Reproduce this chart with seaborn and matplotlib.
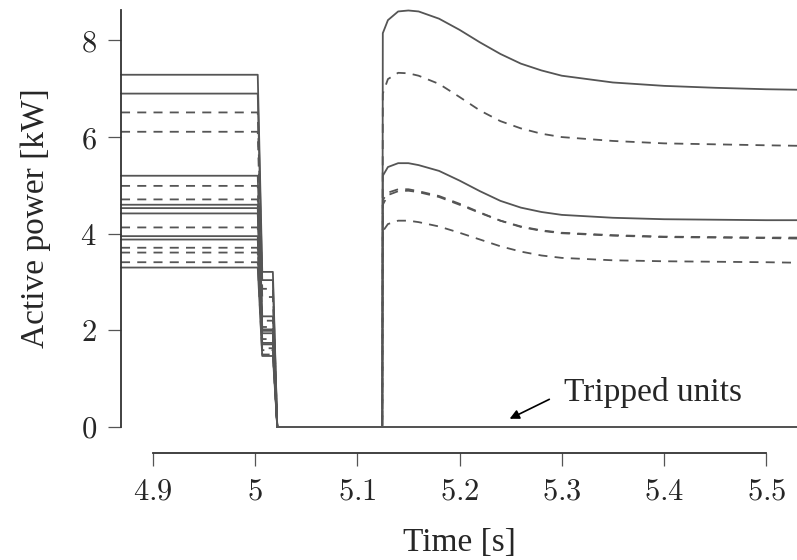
import matplotlib
matplotlib.use('Agg')
import matplotlib.pyplot as plt
import seaborn as sns
import pandas as pd

# pre-fault active power of each unit [kW] and its line style
pre_levels = [7.29, 6.90, 6.51, 6.11, 5.20, 4.99, 4.71, 4.60, 4.53, 4.42,
              4.13, 3.95, 3.88, 3.71, 3.61, 3.41, 3.30]
sag_levels = [3.21, 3.04, 2.86, 2.69, 2.29, 2.20, 2.07, 2.02, 1.99, 1.94,
              1.82, 1.74, 1.71, 1.63, 1.59, 1.50, 1.47]
unit_styles = ['solid', 'solid', 'dashed', 'dashed', 'solid', 'dashed', 'dashed',
               'solid', 'solid', 'solid', 'dashed', 'solid', 'solid', 'dashed',
               'dashed', 'dashed', 'solid']

# fault sequence break points [s]
t_steady_end = 5.0027
t_sag = 5.0071
t_sag_end = 5.0175
t_trip = 5.0218
t_restart = 5.1245
t_start, t_end = 4.869, 5.53

# units that restart after the fault and their recovery curves
restart_units = [0, 2, 4, 5, 6, 10]
restart_t = [5.1245, 5.125, 5.13, 5.14, 5.15, 5.16, 5.18, 5.20, 5.22, 5.24,
             5.26, 5.28, 5.30, 5.35, 5.40, 5.45, 5.50, 5.53]
restart_p = {
    0: [0, 8.15, 8.42, 8.60, 8.62, 8.60, 8.45, 8.22, 7.96, 7.72, 7.52, 7.38,
        7.27, 7.13, 7.06, 7.02, 6.99, 6.98],
    2: [0, 6.90, 7.20, 7.33, 7.32, 7.27, 7.10, 6.83, 6.55, 6.33, 6.18, 6.07,
        6.00, 5.92, 5.87, 5.85, 5.83, 5.82],
    4: [0, 5.20, 5.38, 5.46, 5.46, 5.42, 5.30, 5.10, 4.88, 4.68, 4.54, 4.45,
        4.39, 4.33, 4.30, 4.29, 4.28, 4.28],
    5: [0, 4.70, 4.85, 4.92, 4.92, 4.88, 4.78, 4.62, 4.44, 4.27, 4.14, 4.06,
        4.01, 3.96, 3.93, 3.92, 3.91, 3.90],
    6: [0, 4.60, 4.80, 4.88, 4.89, 4.86, 4.76, 4.60, 4.43, 4.27, 4.15, 4.07,
        4.02, 3.97, 3.94, 3.93, 3.92, 3.92],
    10: [0, 4.05, 4.20, 4.27, 4.27, 4.24, 4.15, 4.02, 3.88, 3.74, 3.63, 3.55,
         3.50, 3.45, 3.43, 3.42, 3.41, 3.40],
}

x_ticks = [4.9, 5.0, 5.1, 5.2, 5.3, 5.4, 5.5]
x_tick_labels = ['4.9', '5', '5.1', '5.2', '5.3', '5.4', '5.5']
y_ticks = [0, 2, 4, 6, 8]

rows = []
for i, (p0, ps, st) in enumerate(zip(pre_levels, sag_levels, unit_styles)):
    ts = [t_start, t_steady_end, t_sag, t_sag_end, t_trip, t_restart]
    ps_ = [p0, p0, ps, ps, 0, 0]
    if i in restart_units:
        ts += restart_t
        ps_ += restart_p[i]
    else:
        ts.append(t_end)
        ps_.append(0)
    for t, p in zip(ts, ps_):
        rows.append({'unit': i, 'time': t, 'power': p, 'kind': st})
df = pd.DataFrame(rows)

sns.set_style('ticks')
plt.rcParams['font.family'] = ['Liberation Serif', 'DejaVu Serif']
plt.rcParams['mathtext.fontset'] = 'cm'

fig = plt.figure(figsize=(7.97, 5.6), dpi=100)
ax = fig.add_axes([121 / 797, 1 - 427 / 560, 1 - 121 / 797, (427 - 10) / 560])

sns.lineplot(data=df, x='time', y='power', units='unit', estimator=None,
             style='kind', dashes={'solid': '', 'dashed': (5, 4)},
             color='#555555', linewidth=1.3, sort=False, legend=False, ax=ax)
for ln in ax.lines:
    ln.set_clip_on(False)

ax.set_xlim(t_start, t_end)
ax.set_ylim(0, 8.63)

for s in ['top', 'right']:
    ax.spines[s].set_visible(False)
for s in ['left', 'bottom']:
    ax.spines[s].set_color('#333333')
    ax.spines[s].set_linewidth(1.3)
ax.spines['bottom'].set_position(('outward', 19))
ax.spines['bottom'].set_bounds(4.9, 5.5)

ax.set_xticks(x_ticks)
ax.set_xticklabels(['$%s$' % s for s in x_tick_labels])
ax.set_yticks(y_ticks)
ax.set_yticklabels(['$%d$' % v for v in y_ticks])
ax.tick_params(axis='both', direction='out', length=9.5, width=0.9,
               color='#555555', labelsize=22, pad=8)

ax.set_xlabel('Time [s]', fontsize=24, labelpad=15)
ax.set_ylabel('Active power [kW]', fontsize=24, labelpad=21)

ax.annotate('Tripped units', xy=(5.249, 0.17), xytext=(5.302, 0.72),
            fontsize=24, va='center', ha='left',
            arrowprops=dict(arrowstyle='-|>', color='black', lw=1.2,
                            relpos=(0, 0.5), shrinkA=9, shrinkB=0,
                            mutation_scale=14))

fig.savefig('out.png', dpi=100)
